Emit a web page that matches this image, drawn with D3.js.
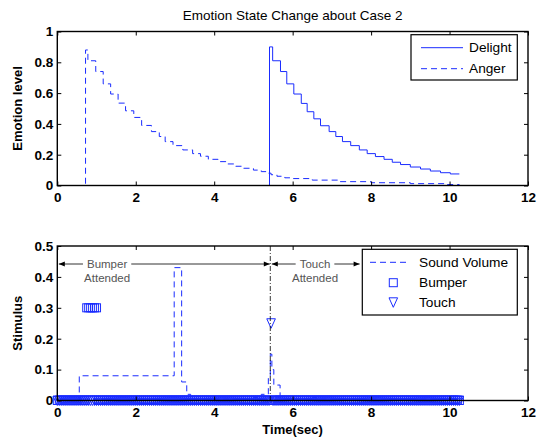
<!DOCTYPE html>
<html lang="en">
<head>
<meta charset="UTF-8">
<title>Emotion State Change about Case 2</title>
<script src="https://d3js.org/d3.v7.min.js"></script>
<style>
  body { margin: 0; background: #fff; }
  text { font-family: "Liberation Sans", Arial, Helvetica, sans-serif; }
</style>
</head>
<body>
<script>
// ---- data ----
const timeTicks = [0, 2, 4, 6, 8, 10, 12];
const emotionTicks = [0, 0.2, 0.4, 0.6, 0.8, 1];
const stimulusTicks = [0, 0.1, 0.2, 0.3, 0.4, 0.5];

// Delight (step values)
const delightT = [0, 5.41, 5.49, 5.69, 5.85, 6.03, 6.22, 6.37, 6.54, 6.71, 6.93, 7.10, 7.27, 7.48,
                  7.70, 7.90, 8.11, 8.33, 8.54, 8.75, 9.00, 9.26, 9.51, 9.77, 10.02, 10.25];
const delightV = [0, 0.90, 0.81, 0.74, 0.66, 0.594, 0.533, 0.479, 0.433, 0.388, 0.35, 0.318, 0.285, 0.259,
                  0.231, 0.207, 0.188, 0.17, 0.151, 0.136, 0.12, 0.107, 0.094, 0.083, 0.075, 0.075];

// Anger (step values)
const angerT = [0, 0.72, 0.78, 0.98, 1.17, 1.36, 1.55, 1.74, 1.95, 2.15, 2.40, 2.60, 2.75, 2.95, 3.20,
                3.45, 3.65, 3.85, 4.10, 4.30, 4.55, 4.75, 5.00, 5.20, 5.38, 5.45, 5.60, 5.80, 6.00,
                6.50, 7.20, 8.00, 9.00, 9.90, 10.25];
const angerV = [0, 0.88, 0.81, 0.74, 0.66, 0.594, 0.535, 0.485, 0.442, 0.39, 0.35, 0.318, 0.285, 0.259, 0.231,
                0.207, 0.19, 0.17, 0.155, 0.14, 0.125, 0.112, 0.10, 0.09, 0.08, 0.07, 0.06, 0.05, 0.045,
                0.035, 0.025, 0.018, 0.012, 0.006, 0.004];

// Sound volume (step values)
const soundT = [0, 0.56, 2.98, 3.17, 3.30, 3.40, 5.00, 5.20, 5.38, 5.43, 5.47, 5.52, 5.68, 6.50, 6.60, 10.25];
const soundV = [0, 0.08, 0.43, 0.06, 0.02, 0.005, 0.01, 0.02, 0.08, 0.15, 0.10, 0.05, 0.005, 0.01, 0.005, 0.005];

// sensor samples (every 0.05 s), bumper / touch hits
const sampleT = d3.range(0, 206).map(i => i * 0.05);
const bumperOnT = [0.75, 0.80, 0.85, 0.90, 0.95, 1.00];
const bumperLevel = 0.3;
const touchOnT = [5.45];
const touchLevel = 0.25;
const switchT = 5.43;

// attention spans
const spans = [
  { from: 0, to: 5.43, labelT: 1.27, lines: ["Bumper", "Attended"] },
  { from: 5.43, to: 7.72, labelT: 6.57, lines: ["Touch", "Attended"] }
];

const blue = "#1a2cff";

const svg = d3.select("body").append("svg")
  .attr("width", 537)
  .attr("height", 437);

const x = d3.scaleLinear().domain([0, 12]).range([57.3, 528]);
const yTop = d3.scaleLinear().domain([0, 1]).range([185.5, 31.5]);
const yBot = d3.scaleLinear().domain([0, 0.5]).range([400.5, 246]);

function drawAxes(y, yTicks, yLabel) {
  const [y0, y1] = y.range();
  const g = svg.append("g");

  g.append("g").attr("transform", `translate(0,${y0})`)
    .call(d3.axisBottom(x).tickValues(timeTicks).tickSize(-4).tickSizeOuter(0).tickPadding(7).tickFormat(d3.format("d")));
  g.append("g").attr("transform", `translate(0,${y1})`)
    .call(d3.axisTop(x).tickValues(timeTicks).tickSize(-4).tickSizeOuter(0).tickFormat(""));
  g.append("g").attr("transform", `translate(${x.range()[0]},0)`)
    .call(d3.axisLeft(y).tickValues(yTicks).tickSize(-4).tickSizeOuter(0).tickPadding(4).tickFormat(d => d === 0 ? "0" : d3.format("~g")(d)));
  g.append("g").attr("transform", `translate(${x.range()[1]},0)`)
    .call(d3.axisRight(y).tickValues(yTicks).tickSize(-4).tickSizeOuter(0).tickFormat(""));

  g.selectAll(".domain").remove();
  g.selectAll(".tick line").attr("stroke", "#000").attr("stroke-width", 1);
  g.selectAll(".tick text")
    .attr("fill", "#000")
    .style("font-size", "13.5px")
    .style("font-weight", "bold")
    .style("font-family", "'Liberation Sans', Arial, sans-serif");

  g.append("rect")
    .attr("x", x.range()[0]).attr("y", y1)
    .attr("width", x.range()[1] - x.range()[0])
    .attr("height", y0 - y1)
    .attr("fill", "none").attr("stroke", "#000").attr("stroke-width", 1.4);

  svg.append("text")
    .attr("transform", `translate(17,${(y0 + y1) / 2}) rotate(-90)`)
    .attr("text-anchor", "middle")
    .attr("dominant-baseline", "central")
    .style("font-size", "13px")
    .style("font-weight", "bold")
    .text(yLabel);
}

function stepLine(y) {
  return d3.line()
    .x(d => x(d[0]))
    .y(d => y(d[1]))
    .curve(d3.curveStepAfter);
}

// ---- top: emotion levels ----
svg.append("text")
  .attr("x", 292.6).attr("y", 20)
  .attr("text-anchor", "middle")
  .style("font-size", "13.5px")
  .text("Emotion State Change about Case 2");

svg.append("path")
  .datum(delightT.map((t, i) => [t, delightV[i]]))
  .attr("fill", "none").attr("stroke", blue).attr("stroke-width", 1)
  .attr("d", stepLine(yTop));

svg.append("path")
  .datum(angerT.map((t, i) => [t, angerV[i]]))
  .attr("fill", "none").attr("stroke", blue).attr("stroke-width", 1)
  .attr("stroke-dasharray", "6,4")
  .attr("d", stepLine(yTop));

drawAxes(yTop, emotionTicks, "Emotion level");

// legend top
const lg1 = svg.append("g");
lg1.append("rect").attr("x", 411).attr("y", 34.7).attr("width", 106.3).attr("height", 45.3)
  .attr("fill", "#fff").attr("stroke", "#000").attr("stroke-width", 1.2);
[["Delight", null, 47.7], ["Anger", "6,4", 68.7]].forEach(([name, dash, ly]) => {
  lg1.append("line").attr("x1", 421).attr("x2", 463).attr("y1", ly).attr("y2", ly)
    .attr("stroke", blue).attr("stroke-width", 1).attr("stroke-dasharray", dash);
  lg1.append("text").attr("x", 469).attr("y", ly).attr("dominant-baseline", "central")
    .style("font-size", "13.7px").text(name);
});

// ---- bottom: stimulus ----
svg.append("path")
  .datum(soundT.map((t, i) => [t, soundV[i]]))
  .attr("fill", "none").attr("stroke", blue).attr("stroke-width", 1)
  .attr("stroke-dasharray", "6,4")
  .attr("d", stepLine(yBot));

const bumper = sampleT.map(t => [t, bumperOnT.some(b => Math.abs(b - t) < 1e-6) ? bumperLevel : 0]);
const touch = sampleT.map(t => [t, touchOnT.some(b => Math.abs(b - t) < 1e-6) ? touchLevel : 0]);

svg.append("g").selectAll("rect")
  .data(bumper)
  .join("rect")
  .attr("x", d => x(d[0]) - 4).attr("y", d => yBot(d[1]) - 4)
  .attr("width", 8).attr("height", 8)
  .attr("fill", "none").attr("stroke", blue).attr("stroke-width", 1);

const tri = (cx, cy) => `M${cx - 4.3},${cy - 4.5}L${cx + 4.3},${cy - 4.5}L${cx},${cy + 5}Z`;
svg.append("g").selectAll("path")
  .data(touch)
  .join("path")
  .attr("d", d => tri(x(d[0]), yBot(d[1])))
  .attr("fill", "none").attr("stroke", blue).attr("stroke-width", 1);

// attention switch line
svg.append("line")
  .attr("x1", x(switchT)).attr("x2", x(switchT))
  .attr("y1", yBot.range()[1]).attr("y2", yBot.range()[0])
  .attr("stroke", "#000").attr("stroke-width", 0.8)
  .attr("stroke-dasharray", "5,2,1,2");

drawAxes(yBot, stimulusTicks, "Stimulus");

// attention spans with arrows
const arrowY = 264;
const annot = svg.append("g");
function arrowHead(tipX, dir) {
  annot.append("path")
    .attr("d", `M${tipX},${arrowY}L${tipX - dir * 6},${arrowY - 2.6}L${tipX - dir * 6},${arrowY + 2.6}Z`)
    .attr("fill", "#000");
}
spans.forEach(s => {
  const cx = x(s.labelT);
  const t1 = annot.append("text").attr("x", cx).attr("y", arrowY).attr("text-anchor", "middle")
    .attr("dominant-baseline", "central").attr("fill", "#555").style("font-size", "11.5px").text(s.lines[0]);
  annot.append("text").attr("x", cx).attr("y", arrowY + 14).attr("text-anchor", "middle")
    .attr("dominant-baseline", "central").attr("fill", "#555").style("font-size", "11.5px").text(s.lines[1]);
  const w = t1.node().getComputedTextLength();
  const xa = x(s.from) + 1.5, xb = x(s.to) - 0.5;
  annot.append("line").attr("x1", xa).attr("x2", cx - w / 2 - 4).attr("y1", arrowY).attr("y2", arrowY)
    .attr("stroke", "#333").attr("stroke-width", 1);
  annot.append("line").attr("x1", cx + w / 2 + 4).attr("x2", xb).attr("y1", arrowY).attr("y2", arrowY)
    .attr("stroke", "#333").attr("stroke-width", 1);
  arrowHead(xa, -1);
  arrowHead(xb, 1);
});

// legend bottom
const lg2 = svg.append("g");
lg2.append("rect").attr("x", 362.3).attr("y", 249.3).attr("width", 155).attr("height", 65.7)
  .attr("fill", "#fff").attr("stroke", "#000").attr("stroke-width", 1.2);
lg2.append("line").attr("x1", 370).attr("x2", 410).attr("y1", 262.3).attr("y2", 262.3)
  .attr("stroke", blue).attr("stroke-width", 1).attr("stroke-dasharray", "6,4");
lg2.append("rect").attr("x", 389.3).attr("y", 278.7).attr("width", 8).attr("height", 8)
  .attr("fill", "none").attr("stroke", blue).attr("stroke-width", 1);
lg2.append("path").attr("d", tri(393.3, 302.3))
  .attr("fill", "none").attr("stroke", blue).attr("stroke-width", 1);
[["Sound Volume", 262.3], ["Bumper", 282.7], ["Touch", 302.7]].forEach(([name, ly]) => {
  lg2.append("text").attr("x", 419).attr("y", ly).attr("dominant-baseline", "central")
    .style("font-size", "13.7px").text(name);
});

svg.append("text")
  .attr("x", 292.6).attr("y", 433.5)
  .attr("text-anchor", "middle")
  .style("font-size", "13px")
  .style("font-weight", "bold")
  .text("Time(sec)");
</script>
</body>
</html>
